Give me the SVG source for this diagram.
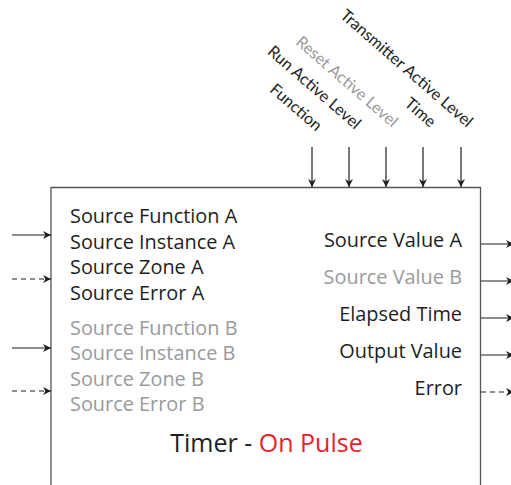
<svg xmlns="http://www.w3.org/2000/svg" width="511" height="485" viewBox="0 0 511 485">
<style>
.lbl{font-family:"Open Sans","DejaVu Sans",sans-serif;font-size:19.9px;fill:#1e1e1e}
.g{fill:#9a9a9a}
.rot{font-family:Lato,"Open Sans",sans-serif;font-size:16.2px;fill:#1e1e1e;text-anchor:end}
.ttl{font-family:"Open Sans","DejaVu Sans",sans-serif;font-size:25px;fill:#1e1e1e;text-anchor:middle}
.ln{stroke:#1e1e1e;stroke-width:1.2;fill:none}
.d{stroke-dasharray:5 4}
</style>
<defs>
<marker id="ah" viewBox="0 0 10 10" refX="10" refY="5" markerWidth="8" markerHeight="8" markerUnits="userSpaceOnUse" orient="auto">
<path d="M0,0 L10,5 L0,10 L3,5 Z" fill="#1e1e1e"/>
</marker>
</defs>
<rect width="511" height="485" fill="#fff"/>
<g id="timer-block">
<path d="M51,485 V187.5 H480.5 V485" stroke="#555" stroke-width="1.3" fill="none"/>
<text class="lbl" x="70" y="222.5">Source Function A</text>
<text class="lbl" x="70" y="248.5">Source Instance A</text>
<text class="lbl" x="70" y="274">Source Zone A</text>
<text class="lbl" x="70" y="300">Source Error A</text>
<text class="lbl g" x="70" y="334.5">Source Function B</text>
<text class="lbl g" x="70" y="360">Source Instance B</text>
<text class="lbl g" x="70" y="385.5">Source Zone B</text>
<text class="lbl g" x="70" y="411">Source Error B</text>
<text class="lbl" x="462" y="247" text-anchor="end">Source Value A</text>
<text class="lbl g" x="462" y="284" text-anchor="end">Source Value B</text>
<text class="lbl" x="462" y="321" text-anchor="end">Elapsed Time</text>
<text class="lbl" x="462" y="358" text-anchor="end">Output Value</text>
<text class="lbl" x="462" y="395" text-anchor="end">Error</text>
<text class="ttl" x="266.5" y="452">Timer - <tspan fill="#e8232a">On Pulse</tspan></text>
</g>
<g id="top-labels">
<text class="rot" transform="translate(316,132) rotate(41)">Function</text>
<text class="rot" transform="translate(355,130) rotate(41)">Run Active Level</text>
<text class="rot" transform="translate(392,128) rotate(41)" style="fill:#9a9a9a">Reset Active Level</text>
<text class="rot" transform="translate(430,128) rotate(41)">Time</text>
<text class="rot" transform="translate(467,128) rotate(41)">Transmitter Active Level</text>
</g>
<g id="connectors">
<line class="ln" x1="312" y1="147" x2="312" y2="187" marker-end="url(#ah)"/>
<line class="ln" x1="349" y1="147" x2="349" y2="187" marker-end="url(#ah)"/>
<line class="ln" x1="386" y1="147" x2="386" y2="187" marker-end="url(#ah)"/>
<line class="ln" x1="423" y1="147" x2="423" y2="187" marker-end="url(#ah)"/>
<line class="ln" x1="461" y1="147" x2="461" y2="187" marker-end="url(#ah)"/>
<line class="ln" x1="12" y1="235" x2="51" y2="235" marker-end="url(#ah)"/>
<line class="ln d" x1="12" y1="279" x2="51" y2="279" marker-end="url(#ah)"/>
<line class="ln" x1="12" y1="348" x2="51" y2="348" marker-end="url(#ah)"/>
<line class="ln d" x1="12" y1="391" x2="51" y2="391" marker-end="url(#ah)"/>
<line class="ln" x1="481" y1="244" x2="514" y2="244" marker-end="url(#ah)"/>
<line class="ln" x1="481" y1="281" x2="514" y2="281" marker-end="url(#ah)"/>
<line class="ln" x1="481" y1="318" x2="514" y2="318" marker-end="url(#ah)"/>
<line class="ln" x1="481" y1="355" x2="514" y2="355" marker-end="url(#ah)"/>
<line class="ln d" x1="481" y1="392" x2="514" y2="392" marker-end="url(#ah)"/>
</g>
</svg>
